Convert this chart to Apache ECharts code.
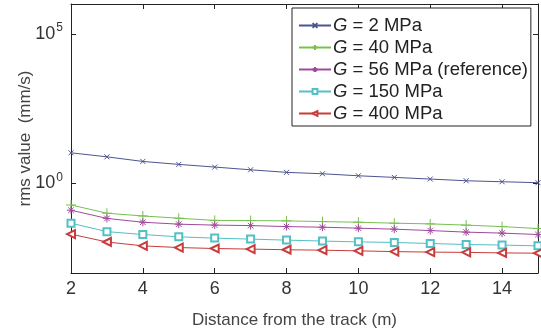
<!DOCTYPE html>
<html>
<head>
<meta charset="utf-8">
<script src="https://cdn.jsdelivr.net/npm/echarts@6/dist/echarts.min.js"></script>
<style>
html,body{margin:0;padding:0;background:#fff;}
#chart{width:541px;height:334px;}
</style>
</head>
<body>
<div id="chart"></div>
<script>
var distances = [2,3,4,5,6,7,8,9,10,11,12,13,14,15];
var g2   = [10.5,7.7,5.4,4.3,3.5,2.84,2.33,2.09,1.79,1.58,1.39,1.22,1.13,1.05];
var g40  = [0.189,0.100,0.081,0.068,0.0575,0.0567,0.0554,0.0525,0.050,0.0464,0.044,0.040,0.0357,0.0307];
var g56  = [0.126,0.067,0.050,0.043,0.040,0.0386,0.0357,0.0341,0.0316,0.0293,0.0263,0.0233,0.0216,0.0194];
var g150 = [0.0464,0.0242,0.0194,0.0162,0.0147,0.0136,0.0126,0.0117,0.0110,0.0105,0.0097,0.0090,0.0086,0.0081];
var g400 = [0.020,0.0109,0.0081,0.0071,0.0066,0.0063,0.0060,0.0058,0.0055,0.0052,0.0050,0.0049,0.0047,0.0046];
var seriesNames = ['G = 2 MPa','G = 40 MPa','G = 56 MPa (reference)','G = 150 MPa','G = 400 MPa'];
var xTicks = [2,4,6,8,10,12,14];
var yTickValues = [1, 100000];

var FONT = '"Liberation Sans", Arial, sans-serif';
var symX = 'path://M0,0L10,10M10,0L0,10';
var symPlus = 'path://M5,0L5,10M0,5L10,5';
var symStar = 'path://M5,0L5,10M0,5L10,5M1.5,1.5L8.5,8.5M8.5,1.5L1.5,8.5';

function pairs(arr){ return distances.map(function(d,i){ return [d, arr[i]]; }); }

var styles = [
  {data:g2,   color:'#4d5590', symbol:symX,    size:5, fill:'none'},
  {data:g40,  color:'#78c050', symbol:symPlus, size:10, fill:'none'},
  {data:g56,  color:'#a04a9c', symbol:symStar, size:8, fill:'none'},
  {data:g150, color:'#52c0c4', symbol:'emptyRect', size:7, fill:'#fff'},
  {data:g400, color:'#c83c3c', symbol:'emptyTriangle', size:8, fill:'#fff', rotate:90}
];

var series = styles.map(function(s, i){
  return {
    name: seriesNames[i],
    type: 'line',
    data: pairs(s.data),
    symbol: s.symbol,
    symbolSize: s.size,
    symbolRotate: s.rotate || 0,
    showAllSymbol: true,
    lineStyle: {color: s.color, width: 1},
    itemStyle: {color: s.color, borderColor: s.color, borderWidth: 1},
    emphasis: {disabled: true},
    animation: false,
    z: 2
  };
});

function yFmt(v){
  var e = Math.round(Math.log10(v));
  return '{b|10}{s|' + e + '}';
}

var chart = echarts.init(document.getElementById('chart'), null, {renderer:'canvas'});
chart.setOption({
  animation: false,
  backgroundColor: '#fff',
  textStyle: {fontFamily: FONT},
  grid: {left: 71, right: 3, top: 4, bottom: 60, containLabel: false},
  legend: {
    orient: 'vertical',
    left: 292, top: 8,
    padding: [8, 3, 3, 6],
    itemWidth: 32, itemHeight: 6, itemGap: 3,
    borderColor: '#222', borderWidth: 1, backgroundColor: '#fff',
    data: seriesNames,
    formatter: function(name){ return name.replace(/^G/, '{i|G}'); },
    textStyle: {
      fontFamily: FONT, fontSize: 18.5, color: '#222', padding: [0,0,0,-3], lineHeight: 18,
      rich: {i: {fontStyle: 'italic', fontSize: 18.5, fontFamily: FONT, color:'#222', lineHeight: 18}}
    }
  },
  xAxis: [{
    type: 'value', min: 2, max: 15, interval: 2,
    name: 'Distance from the track (m)',
    nameLocation: 'middle', nameGap: 39, nameMoveOverlap: false,
    nameTextStyle: {fontSize: 17, color: '#444', fontFamily: FONT, padding:[0,20,0,0]},
    axisLine: {show: true, lineStyle: {color: '#222', width: 1}},
    axisTick: {show: true, inside: true, length: 5, customValues: xTicks, lineStyle: {color:'#222'}},
    axisLabel: {fontSize: 18, color: '#333', margin: 7, fontFamily: FONT,
      customValues: xTicks},
    splitLine: {show: false}
  },{
    type: 'value', min: 2, max: 15, interval: 2, position: 'top',
    axisLine: {show: true, lineStyle: {color: '#222', width: 1}},
    axisTick: {show: true, inside: true, length: 5, customValues: xTicks, lineStyle: {color:'#222'}},
    axisLabel: {show: false},
    splitLine: {show: false}
  }],
  yAxis: [{
    type: 'log', logBase: 10, min: 0.001, max: 1000000,
    name: 'rms value  (mm/s)',
    nameLocation: 'middle', nameGap: 37, nameRotate: 90, nameMoveOverlap: false,
    nameTextStyle: {fontSize: 17, color: '#444', fontFamily: FONT},
    axisLine: {show: true, lineStyle: {color: '#222', width: 1}},
    axisTick: {show: true, inside: true, length: 5, customValues: yTickValues, lineStyle: {color:'#222'}},
    axisLabel: {
      customValues: yTickValues, formatter: yFmt, margin: 8,
      rich: {
        b: {fontSize: 18, color: '#333', fontFamily: FONT},
        s: {fontSize: 12, color: '#333', fontFamily: FONT, verticalAlign: 'bottom', padding: [0,0,12,1]}
      }
    },
    splitLine: {show: false}
  },{
    type: 'log', logBase: 10, min: 0.001, max: 1000000, position: 'right',
    axisLine: {show: true, lineStyle: {color: '#222', width: 1}},
    axisTick: {show: true, inside: true, length: 5, customValues: yTickValues, lineStyle: {color:'#222'}},
    axisLabel: {show: false},
    splitLine: {show: false}
  }],
  series: series
});
</script>
</body>
</html>
